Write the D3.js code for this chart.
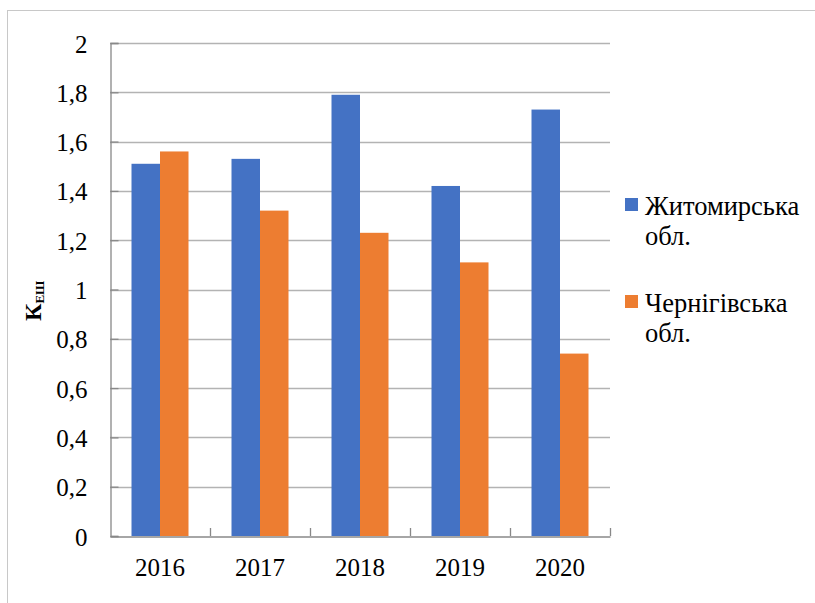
<!DOCTYPE html>
<html>
<head>
<meta charset="utf-8">
<script src="https://cdn.jsdelivr.net/npm/d3@7"></script>
<style>
  html, body { margin: 0; padding: 0; background: #fff; }
  svg text { font-family: "Liberation Serif", "Times New Roman", Times, serif !important; }
</style>
</head>
<body>
<svg id="chart" width="815" height="603"></svg>
<script>
const years = ["2016", "2017", "2018", "2019", "2020"];
const seriesNames = ["Житомирська обл.", "Чернігівська обл."];
const zhytomyr = [1.51, 1.53, 1.79, 1.42, 1.73];
const chernihiv = [1.56, 1.32, 1.23, 1.11, 0.74];
const yTicks = [0, 0.2, 0.4, 0.6, 0.8, 1, 1.2, 1.4, 1.6, 1.8, 2];
const colors = ["#4472C4", "#ED7D31"];
const legendLines = [["Житомирська", "обл."], ["Чернігівська", "обл."]];

const svg = d3.select("#chart");
const plot = { left: 110, right: 610, top: 43, bottom: 536 };

// outer frame (left and top edges visible)
svg.append("rect").attr("x", 7.5).attr("y", 10.5).attr("width", 820).attr("height", 620)
  .attr("fill", "none").attr("stroke", "#c8c8c8").attr("stroke-width", 1);

const y = d3.scaleLinear().domain([0, 2]).range([plot.bottom, plot.top]);
const x0 = d3.scaleBand().domain(years).range([plot.left, plot.right])
  .paddingInner(0.43).paddingOuter(0.215);
const x1 = d3.scaleBand().domain(seriesNames).range([0, x0.bandwidth()]);

// gridlines
svg.append("g").selectAll("line").data(yTicks.filter(d => d > 0)).join("line")
  .attr("x1", plot.left).attr("x2", plot.right)
  .attr("y1", d => Math.round(y(d)) + 0.5).attr("y2", d => Math.round(y(d)) + 0.5)
  .attr("stroke", "#b3b3b3").attr("stroke-width", 1.3);

// bars
const data = years.map((yr, i) => ({ year: yr, values: [zhytomyr[i], chernihiv[i]] }));
const groups = svg.append("g").selectAll("g").data(data).join("g")
  .attr("transform", d => `translate(${x0(d.year)},0)`);
groups.selectAll("rect").data(d => d.values.map((v, j) => ({ v, j }))).join("rect")
  .attr("x", d => x1(seriesNames[d.j]))
  .attr("width", x1.bandwidth())
  .attr("y", d => y(d.v))
  .attr("height", d => y(0) - y(d.v))
  .attr("fill", d => colors[d.j]);

// y axis
const yAxis = d3.axisLeft(y).tickValues(yTicks).tickSize(-8).tickPadding(23)
  .tickFormat(d => String(d).replace(".", ","));
const gy = svg.append("g").attr("transform", `translate(${plot.left + 0.5},0)`).call(yAxis);
gy.attr("font-family", null).attr("font-size", null);
gy.select(".domain").attr("stroke", "#888").attr("stroke-width", 1.3);
gy.selectAll(".tick line").attr("stroke", "#888").attr("stroke-width", 1.3);
gy.selectAll(".tick text").style("font-size", "25px").attr("fill", "#000").attr("dy", "0.36em");

// x axis
const gx = svg.append("g").attr("transform", `translate(0,${plot.bottom + 0.5})`)
  .call(d3.axisBottom(x0).tickSize(0).tickPadding(22));
gx.attr("font-family", null).attr("font-size", null);
gx.select(".domain").attr("stroke", "#888").attr("stroke-width", 1.3);
gx.selectAll(".tick text").style("font-size", "25px").attr("fill", "#000");
// category separators (inside ticks)
const seps = d3.range(1, years.length + 1).map(i => plot.left + i * x0.step());
svg.append("g").selectAll("line").data(seps).join("line")
  .attr("x1", d => d + 0.5).attr("x2", d => d + 0.5)
  .attr("y1", plot.bottom - 8).attr("y2", plot.bottom)
  .attr("stroke", "#888").attr("stroke-width", 1.3);

// y title
const yt = svg.append("text").attr("transform", "translate(41,321) rotate(-90)")
  .attr("font-weight", "bold").attr("fill", "#000");
yt.append("tspan").style("font-size", "24px").text("К");
yt.append("tspan").style("font-size", "13px").attr("dy", 3).text("ЕШ");

// legend
const legY = [198, 295];
const leg = svg.append("g").selectAll("g").data(seriesNames).join("g")
  .attr("transform", (d, i) => `translate(625,${legY[i]})`);
leg.append("rect").attr("width", 13).attr("height", 13).attr("fill", (d, i) => colors[i]);
leg.each(function (d, i) {
  const t = d3.select(this).append("text").style("font-size", "26.5px").attr("fill", "#000");
  legendLines[i].forEach((ln, k) => {
    t.append("tspan").attr("x", 20).attr("y", 17 + k * 30).text(ln);
  });
});
</script>
</body>
</html>
